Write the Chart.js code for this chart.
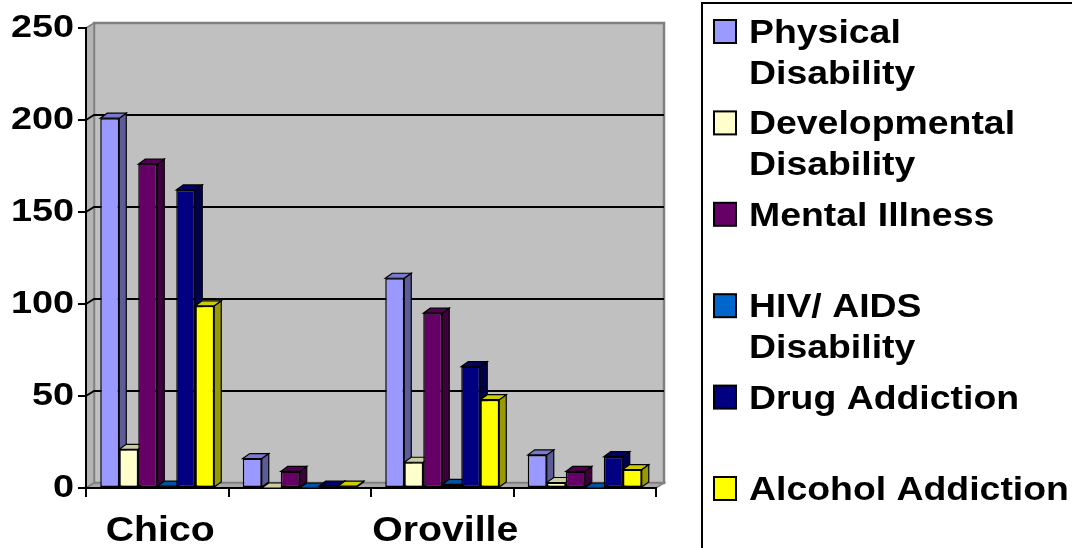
<!DOCTYPE html>
<html>
<head>
<meta charset="utf-8">
<script src="https://cdn.jsdelivr.net/npm/chart.js@4.4.1/dist/chart.umd.min.js"></script>
<style>
  html, body { margin: 0; padding: 0; background: #fff; }
  #wrap { width: 1072px; height: 548px; position: relative; }
</style>
</head>
<body>
<div id="wrap"><canvas id="disChart"></canvas></div>
<script>
// categorias y valores
const categories = ['Chico', '', 'Oroville', ''];
const yTicks = [0, 50, 100, 150, 200, 250];

const physical = [201, 16, 114, 18];
const developmental = [21, 0, 14, 3];
const mental = [176, 9, 95, 9];
const hivAids = [1, 0, 2, 0];
const drug = [162, 1, 66, 17];
const alcohol = [99, 1, 48, 10];

const seriesNames = ['Physical Disability', 'Developmental Disability', 'Mental Illness',
  'HIV/ AIDS Disability', 'Drug Addiction', 'Alcohol Addiction'];
const seriesColors = ['#9999FF', '#FFFFCC', '#660066', '#0066CC', '#000080', '#FFFF00'];
const seriesValues = [physical, developmental, mental, hivAids, drug, alcohol];

const FONT = '"Liberation Sans", Arial, sans-serif';

function shade(hex, f) {
  const n = parseInt(hex.slice(1), 16);
  const r = Math.round(((n >> 16) & 255) * f);
  const g = Math.round(((n >> 8) & 255) * f);
  const b = Math.round((n & 255) * f);
  return 'rgb(' + r + ',' + g + ',' + b + ')';
}

function poly(ctx, pts, fill, stroke, lw) {
  ctx.beginPath();
  ctx.moveTo(pts[0][0], pts[0][1]);
  for (let i = 1; i < pts.length; i++) ctx.lineTo(pts[i][0], pts[i][1]);
  ctx.closePath();
  if (fill) { ctx.fillStyle = fill; ctx.fill(); }
  if (stroke) { ctx.strokeStyle = stroke; ctx.lineWidth = lw || 1; ctx.stroke(); }
}

// texto ensanchado, como en el original
function wideText(ctx, text, x, y, sx, align) {
  ctx.save();
  ctx.translate(x, y);
  ctx.scale(sx, 1);
  ctx.textAlign = align;
  ctx.textBaseline = 'alphabetic';
  ctx.fillText(text, 0, 0);
  ctx.restore();
}

// paredes grises del grafico 3D
const WALL_DX = 8, WALL_DY = -5;
const BAR_DX = 7, BAR_DY = -5;

const walls = {
  id: 'walls',
  beforeDraw(chart) {
    const { ctx, chartArea: a, scales: { y } } = chart;
    ctx.save();
    // back wall
    poly(ctx, [[a.left + WALL_DX, a.top + WALL_DY], [a.right + WALL_DX, a.top + WALL_DY],
      [a.right + WALL_DX, a.bottom + WALL_DY], [a.left + WALL_DX, a.bottom + WALL_DY]], '#C0C0C0', '#808080', 2.5);
    // left wall
    poly(ctx, [[a.left, a.top], [a.left + WALL_DX, a.top + WALL_DY],
      [a.left + WALL_DX, a.bottom + WALL_DY], [a.left, a.bottom]], '#B4B4B4', '#808080', 1.5);
    // floor
    poly(ctx, [[a.left, a.bottom], [a.left + WALL_DX, a.bottom + WALL_DY],
      [a.right + WALL_DX, a.bottom + WALL_DY], [a.right, a.bottom]], '#A8A8A8', '#808080', 1.5);
    // gridlines
    ctx.strokeStyle = '#000';
    ctx.lineWidth = 2;
    y.ticks.forEach(t => {
      if (t.value <= 0 || t.value >= 250) return;
      const py = y.getPixelForValue(t.value);
      ctx.beginPath();
      ctx.moveTo(a.left, py);
      ctx.lineTo(a.left + WALL_DX, py + WALL_DY);
      ctx.lineTo(a.right + WALL_DX, py + WALL_DY);
      ctx.stroke();
    });
    ctx.restore();
  },
  beforeDatasetsDraw(chart) {
    const ctx = chart.ctx;
    ctx.save();
    chart.data.datasets.forEach((ds, i) => {
      const meta = chart.getDatasetMeta(i);
      meta.data.forEach(bar => {
        const l = bar.x - bar.width / 2, r = bar.x + bar.width / 2;
        const t = bar.y, b = bar.base;
        poly(ctx, [[r, t], [r + BAR_DX, t + BAR_DY], [r + BAR_DX, b + BAR_DY], [r, b]],
          shade(ds.backgroundColor, 0.6), '#000', 1.2);
        poly(ctx, [[l, t], [l + BAR_DX, t + BAR_DY], [r + BAR_DX, t + BAR_DY], [r, t]],
          shade(ds.backgroundColor, 0.8), '#000', 1.2);
      });
    });
    ctx.restore();
  }
};

// etiquetas de los ejes y leyenda a la derecha, con recuadro
const labelsAndLegend = {
  id: 'labelsAndLegend',
  afterDraw(chart) {
    const { ctx, scales: { x, y } } = chart;
    ctx.save();
    ctx.fillStyle = '#000';

    ctx.font = 'bold 31px ' + FONT;
    y.ticks.forEach(t => {
      wideText(ctx, String(t.value), 74, y.getPixelForValue(t.value) + 9, 1.22, 'right');
    });

    ctx.font = 'bold 35px ' + FONT;
    x.getLabels().forEach((lab, i) => {
      if (lab) wideText(ctx, lab, x.getPixelForValue(i) + 3, 541, 1.12, 'center');
    });

    ctx.strokeStyle = '#000';
    ctx.lineWidth = 2;
    ctx.strokeRect(702, 3, 420, 600);
    ctx.font = 'bold 34px ' + FONT;
    const sx = 1.1;
    const maxW = (1072 - 749) / sx;
    chart.data.datasets.forEach((ds, i) => {
      const cy = 31 + 91.4 * i;
      ctx.fillStyle = ds.backgroundColor;
      ctx.fillRect(714, cy - 11, 22, 23);
      ctx.strokeRect(714, cy - 11, 22, 23);
      // partir el texto en lineas
      const words = ds.label.split(' ');
      const lines = [];
      let cur = '';
      words.forEach(w => {
        const test = cur ? cur + ' ' + w : w;
        if (ctx.measureText(test).width > maxW && cur) { lines.push(cur); cur = w; }
        else cur = test;
      });
      lines.push(cur);
      ctx.fillStyle = '#000';
      lines.forEach((ln, k) => wideText(ctx, ln, 749, cy + 12 + k * 41, sx, 'left'));
    });
    ctx.restore();
  }
};

const hiddenTicks = { color: 'rgba(0,0,0,0)', autoSkip: false, maxRotation: 0, minRotation: 0, font: { size: 10 } };

const ctx = document.getElementById('disChart').getContext('2d');
const disChart = new Chart(ctx, {
  type: 'bar',
  data: {
    labels: categories,
    datasets: seriesNames.map((name, i) => ({
      label: name,
      data: seriesValues[i],
      backgroundColor: seriesColors[i],
      borderColor: '#000',
      borderWidth: 1.5,
      borderSkipped: false,
      barPercentage: 1.0,
      categoryPercentage: 0.8
    }))
  },
  options: {
    responsive: true,
    maintainAspectRatio: false,
    animation: false,
    devicePixelRatio: 1,
    layout: { padding: { top: 28, right: 416, bottom: 0, left: 0 } },
    plugins: {
      legend: { display: false },
      tooltip: { enabled: false }
    },
    scales: {
      x: {
        afterFit: s => { s.height = 60; },
        grid: { offset: true, drawOnChartArea: false, color: '#000', lineWidth: 2, tickLength: 9 },
        border: { display: true, color: '#000', width: 2 },
        ticks: hiddenTicks
      },
      y: {
        min: 0,
        max: 250,
        afterFit: s => { s.width = 86; },
        afterBuildTicks: s => { s.ticks = yTicks.map(v => ({ value: v })); },
        grid: { drawOnChartArea: false, color: '#000', lineWidth: 2, tickLength: 8 },
        border: { display: true, color: '#000', width: 2 },
        ticks: hiddenTicks
      }
    }
  },
  plugins: [walls, labelsAndLegend]
});
</script>
</body>
</html>
